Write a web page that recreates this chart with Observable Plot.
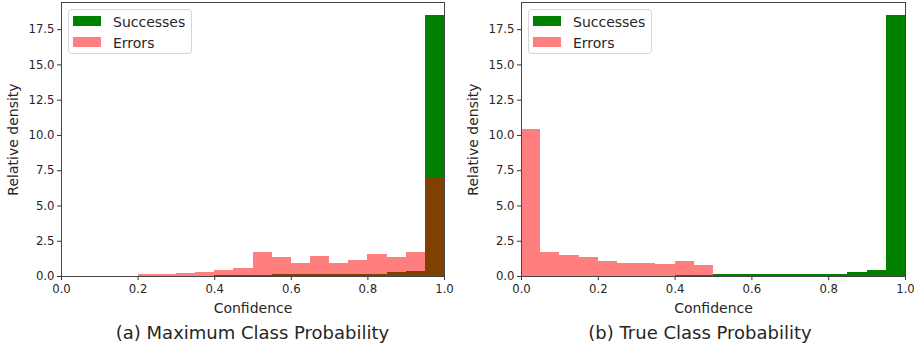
<!DOCTYPE html>
<html>
<head>
<meta charset="utf-8">
<script src="https://cdn.jsdelivr.net/npm/d3@7"></script>
<script src="https://cdn.jsdelivr.net/npm/@observablehq/plot@0.6"></script>
<style>
  html, body { margin: 0; padding: 0; background: #fff; }
  body { width: 914px; height: 348px; position: relative; overflow: hidden; font-family: "DejaVu Sans", sans-serif; }
  .panel { position: absolute; top: 0; height: 348px; }
  .panel svg { position: absolute; left: 0; top: 0; overflow: visible; }
  .panel svg g[aria-label="x-axis label"], .panel svg g[aria-label="y-axis label"] { font-size: 14px; }
  .legend { position: absolute; top: 9px; width: 124px; height: 45px; box-sizing: border-box;
            border: 1px solid #d6d6d6; border-radius: 4px; background: rgba(255,255,255,0.8); }
  .legend .sw { position: absolute; left: 4px; width: 28px; height: 9.5px; }
  .legend .lb { position: absolute; left: 44px; font-size: 14px; line-height: 14px; color: #262626; white-space: nowrap; }
  .caption { position: absolute; top: 324px; font-size: 18px; line-height: 18px; color: #262626; white-space: nowrap; transform: translateX(-50%); }
</style>
</head>
<body>
<script>
// ---- data ----
const binStart = [0.00, 0.05, 0.10, 0.15, 0.20, 0.25, 0.30, 0.35, 0.40, 0.45,
                  0.50, 0.55, 0.60, 0.65, 0.70, 0.75, 0.80, 0.85, 0.90, 0.95];
const binEnd   = [0.05, 0.10, 0.15, 0.20, 0.25, 0.30, 0.35, 0.40, 0.45, 0.50,
                  0.55, 0.60, 0.65, 0.70, 0.75, 0.80, 0.85, 0.90, 0.95, 1.00];

// (a) Maximum Class Probability
const mcpSuccesses = [0, 0, 0, 0, 0.02, 0.02, 0.03, 0.03, 0.05, 0.06,
                      0.10, 0.11, 0.11, 0.12, 0.12, 0.13, 0.15, 0.26, 0.38, 18.5];
const mcpErrors    = [0, 0, 0, 0, 0.12, 0.12, 0.21, 0.28, 0.45, 0.54,
                      1.68, 1.32, 0.95, 1.42, 0.95, 1.16, 1.56, 1.32, 1.73, 7.02];

// (b) True Class Probability
const tcpSuccesses = [0, 0, 0, 0, 0, 0, 0, 0, 0.09, 0.09,
                      0.16, 0.16, 0.16, 0.16, 0.16, 0.16, 0.16, 0.29, 0.41, 18.5];
const tcpErrors    = [10.4, 1.67, 1.47, 1.32, 1.03, 0.94, 0.93, 0.83, 1.04, 0.76,
                      0, 0, 0, 0, 0, 0, 0, 0, 0, 0];

const xTicks = [0, 0.2, 0.4, 0.6, 0.8, 1.0];
const yTicks = [0, 2.5, 5.0, 7.5, 10.0, 12.5, 15.0, 17.5];
const seriesNames = ["Successes", "Errors"];
const captions = ["(a) Maximum Class Probability", "(b) True Class Probability"];

const colorSuccess = "#008000";
const colorError = "#ff0000";
const errorOpacity = 0.5;

function rows(values) {
  return binStart.map((x1, i) => ({x1, x2: binEnd[i], y: values[i]}));
}

function makePanel(succ, err, opts) {
  const fmt = d => d.toFixed(1);
  const chart = Plot.plot({
    width: opts.width,
    height: 318,
    marginLeft: 61,
    marginRight: opts.marginRight,
    marginTop: 2,
    marginBottom: 42,
    style: {fontFamily: "DejaVu Sans, sans-serif", fontSize: "11.7px", color: "#262626", background: "transparent"},
    x: {domain: [0, 1]},
    y: {domain: [0, 19.425]},
    marks: [
      Plot.rectY(rows(succ), {x1: "x1", x2: "x2", y: "y", fill: colorSuccess, inset: 0, shapeRendering: "crispEdges"}),
      Plot.rectY(rows(err), {x1: "x1", x2: "x2", y: "y", fill: colorError, fillOpacity: errorOpacity, inset: 0, shapeRendering: "crispEdges"}),
      Plot.axisX({ticks: xTicks, tickFormat: fmt, tickSize: 4, tickPadding: 4.5, stroke: "#333",
                  label: "Confidence", labelAnchor: "center", labelArrow: "none", labelOffset: 36}),
      Plot.axisY({ticks: yTicks, tickFormat: fmt, tickSize: 4, tickPadding: 3, stroke: "#333",
                  label: "Relative density", labelAnchor: "center", labelArrow: "none", labelOffset: opts.yLabelOffset}),
      Plot.frame({stroke: "#444", strokeWidth: 1})
    ]
  });
  const panel = document.createElement("div");
  panel.className = "panel";
  panel.style.left = opts.left + "px";
  panel.style.width = opts.width + "px";
  panel.appendChild(chart);

  const lg = document.createElement("div");
  lg.className = "legend";
  lg.style.left = opts.legendLeft + "px";
  const colors = [colorSuccess, "rgba(255,0,0," + errorOpacity + ")"];
  const swTops = [6, 27];
  const lbTops = [5, 25.5];
  seriesNames.forEach((name, i) => {
    const sw = document.createElement("div");
    sw.className = "sw";
    sw.style.top = swTops[i] + "px";
    sw.style.background = colors[i];
    lg.appendChild(sw);
    const lb = document.createElement("div");
    lb.className = "lb";
    lb.style.top = lbTops[i] + "px";
    lb.textContent = name;
    lg.appendChild(lb);
  });
  panel.appendChild(lg);

  const cap = document.createElement("div");
  cap.className = "caption";
  cap.style.left = opts.captionCenter + "px";
  cap.textContent = opts.caption;
  panel.appendChild(cap);
  document.body.appendChild(panel);
}

makePanel(mcpSuccesses, mcpErrors, {left: 0, width: 457, marginRight: 13, legendLeft: 68,
  captionCenter: 252.5, caption: captions[0], yLabelOffset: 53});
makePanel(tcpSuccesses, tcpErrors, {left: 460, width: 454, marginRight: 9, legendLeft: 68,
  captionCenter: 240, caption: captions[1], yLabelOffset: 53});
</script>
</body>
</html>
